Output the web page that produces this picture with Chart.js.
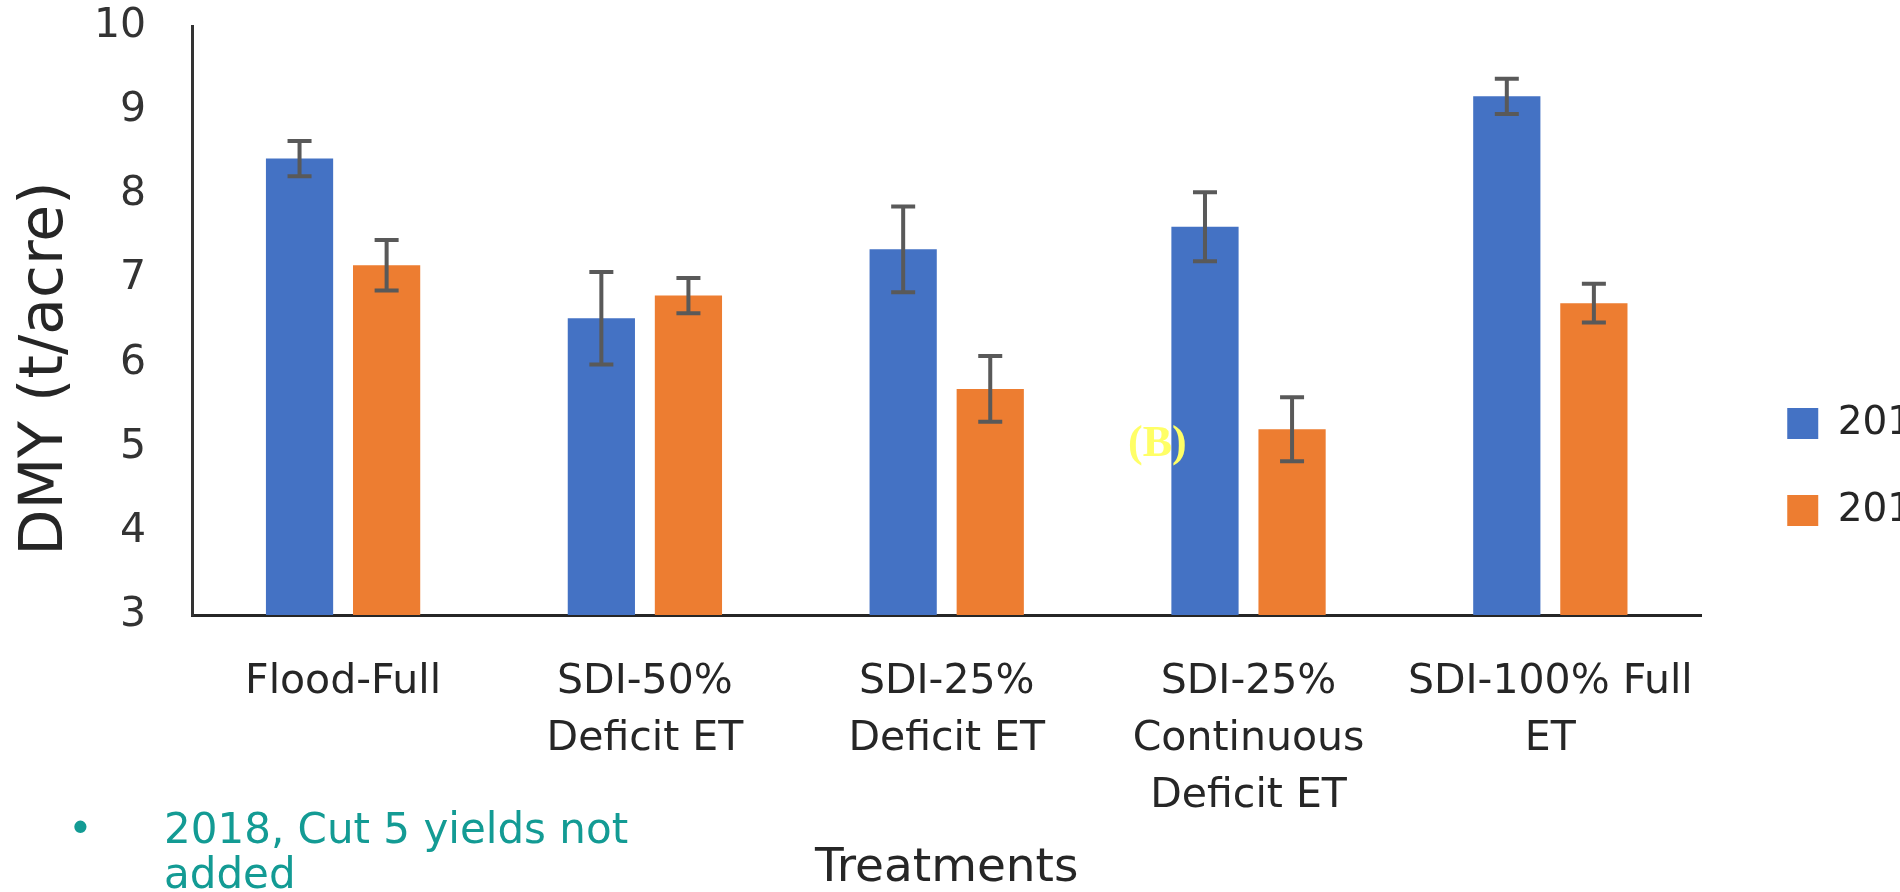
<!DOCTYPE html>
<html>
<head>
<meta charset="utf-8">
<script src="https://cdn.jsdelivr.net/npm/chart.js@4.4.1/dist/chart.umd.min.js"></script>
<style>
  body { margin: 0; overflow: hidden; background: #fff; width: 1900px; height: 892px; position: relative; }
  #caixa { position: absolute; left: 0; top: 0; width: 1947px; height: 892px; }
  #letra { position: absolute; left: 1128px; top: 420px; font: bold 44px "Liberation Serif"; color: #ffff66; line-height: 44px; }
  #nota { position: absolute; left: 0; top: 806px; font-family: "DejaVu Sans"; font-size: 42px; line-height: 45px; color: #139b94; }
  #nota .ponto { position: absolute; left: 68px; top: 0; }
  #nota .texto { position: absolute; left: 164px; top: 0; width: 600px; }
</style>
</head>
<body>
<div id="caixa"><canvas id="grafico"></canvas></div>
<div id="letra">(B)</div>
<div id="nota"><span class="ponto">•</span><div class="texto">2018, Cut 5 yields not<br>added</div></div>

<script>
// tratamentos e valores
const tratamentos = [
  ["Flood-Full"],
  ["SDI-50%", "Deficit ET"],
  ["SDI-25%", "Deficit ET"],
  ["SDI-25%", "Continuous", "Deficit ET"],
  ["SDI-100% Full", "ET"]
];
const anos = ["2017", "2018"];
const dmy2017 = [8.43, 6.53, 7.35, 7.62, 9.17];
const erro2017 = [0.21, 0.55, 0.51, 0.41, 0.21];
const dmy2018 = [7.16, 6.80, 5.69, 5.21, 6.71];
const erro2018 = [0.30, 0.21, 0.39, 0.38, 0.23];
const ticksY = [3, 4, 5, 6, 7, 8, 9, 10];

Chart.defaults.font.family = "DejaVu Sans";
Chart.defaults.color = "#333";

// desenha as barras de erro em cima de cada barra
const barrasErro = {
  id: "barrasErro",
  afterDatasetsDraw(chart) {
    const ctx = chart.ctx;
    const escala = chart.scales.y;
    const erros = [erro2017, erro2018];
    chart.data.datasets.forEach((ds, i) => {
      const meta = chart.getDatasetMeta(i);
      meta.data.forEach((barra, j) => {
        const yTopo = escala.getPixelForValue(ds.data[j] + erros[i][j]);
        const yBase = escala.getPixelForValue(ds.data[j] - erros[i][j]);
        ctx.save();
        ctx.strokeStyle = "#595959";
        ctx.lineWidth = 4;
        ctx.beginPath();
        ctx.moveTo(barra.x, yTopo);
        ctx.lineTo(barra.x, yBase);
        ctx.moveTo(barra.x - 12, yTopo);
        ctx.lineTo(barra.x + 12, yTopo);
        ctx.moveTo(barra.x - 12, yBase);
        ctx.lineTo(barra.x + 12, yBase);
        ctx.stroke();
        ctx.restore();
      });
    });
  }
};

const dados = {
  labels: tratamentos,
  datasets: [
    {
      label: anos[0],
      data: dmy2017,
      backgroundColor: "#4472c4",
      categoryPercentage: 0.577,
      barPercentage: 0.772
    },
    {
      label: anos[1],
      data: dmy2018,
      backgroundColor: "#ed7d31",
      categoryPercentage: 0.577,
      barPercentage: 0.772
    }
  ]
};

const config = {
  type: "bar",
  data: dados,
  plugins: [barrasErro],
  options: {
    responsive: true,
    maintainAspectRatio: false,
    animation: false,
    layout: { padding: 0 },
    plugins: {
      tooltip: { enabled: false },
      legend: {
        position: "right",
        title: { display: true, text: " ", font: { size: 10 }, padding: 15 },
        labels: {
          boxWidth: 31,
          boxHeight: 31,
          padding: 48,
          font: { size: 39 },
          color: "#262626"
        }
      }
    },
    scales: {
      x: {
        grid: { display: false, drawTicks: false },
        border: { display: true, color: "#262626", width: 3 },
        ticks: {
          font: { size: 41, lineHeight: 1.39 },
          color: "#262626",
          padding: 39,
          maxRotation: 0,
          autoSkip: false
        },
        title: {
          display: true,
          text: "Treatments",
          font: { size: 47, lineHeight: 1 },
          color: "#262626",
          padding: { top: -19, bottom: 0 }
        }
      },
      y: {
        min: 3,
        max: 10,
        afterBuildTicks(escala) {
          escala.ticks = ticksY.map(v => ({ value: v }));
        },
        // tickLength faz o espaco entre numeros e eixo (marcas nao aparecem)
        grid: { display: false, drawTicks: true, tickLength: 44 },
        border: { display: true, color: "#333", width: 3 },
        ticks: { font: { size: 41 }, color: "#333", padding: 2 },
        title: {
          display: true,
          // espacos no fim empurram o titulo para baixo, como no original
          text: "DMY (t/acre)\u00a0\u00a0\u00a0\u00a0\u00a0",
          font: { size: 60 },
          color: "#262626",
          padding: { top: 10, bottom: 10 }
        }
      },
      // eixo vazio so para afastar a legenda da area do grafico
      y2: {
        type: "linear",
        position: "right",
        display: true,
        grid: { display: false, drawTicks: false },
        border: { display: false },
        ticks: { display: false },
        afterFit(escala) {
          escala.width = 38;
        }
      }
    }
  }
};

let meuGrafico = new Chart(document.getElementById("grafico"), config);
</script>
</body>
</html>
